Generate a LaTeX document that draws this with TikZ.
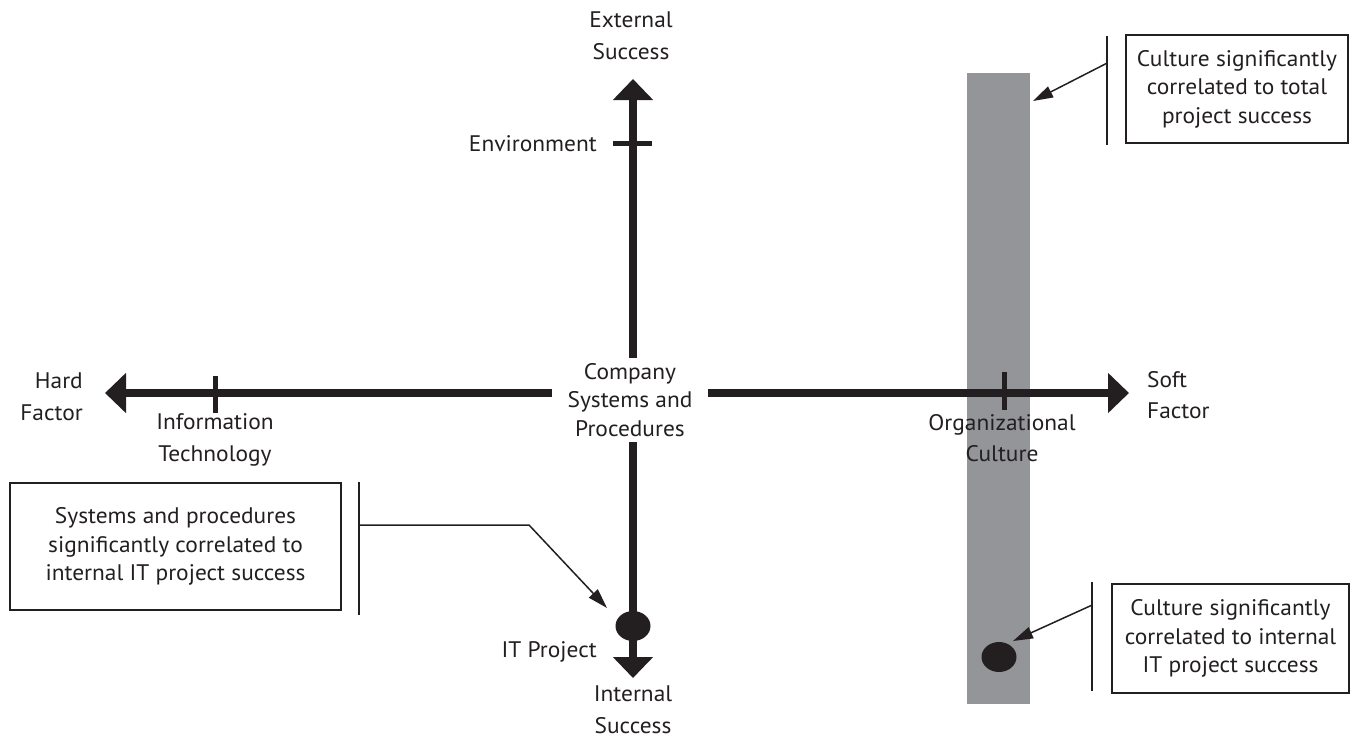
\documentclass[tikz,border=0pt]{standalone}
\usepackage{fontspec}
\setmainfont[FakeStretch=1.04]{PT Sans}
\usetikzlibrary{arrows.meta,calc,shapes.geometric}
\definecolor{ink}{HTML}{231F20}
\definecolor{band}{HTML}{939598}
\begin{document}
\begin{tikzpicture}[x=1pt,y=-1pt,
  lbl/.style={font=\fontsize{22.5}{31.5}\selectfont, text=ink, inner sep=0pt, align=center},
  axis/.style={line width=8pt, draw=ink, -{Triangle[width=39pt,length=21pt]}},
  tickmark/.style={line width=5pt, draw=ink},
  note/.style={draw=ink, line width=1.5pt, inner sep=0pt, align=center, text=ink,
    font=\fontsize{22.5}{28.5}\selectfont},
  bar/.style={draw=ink, line width=2pt},
  pointer/.style={draw=ink, line width=1.5pt, -{Triangle[width=12pt,length=20pt]}},
  dot/.style={ellipse, fill=ink, minimum width=35pt, minimum height=30pt, inner sep=0pt}
]
\useasboundingbox (0,0) rectangle (1353,739);
% gray band
\fill[band] (967,73) rectangle (1030,704);

% centre label
\node[lbl, font=\fontsize{22.5}{28.5}\selectfont, minimum width=156pt, minimum height=84pt] (ctr) at (630,400)
  {Company\\Systems and\\Procedures};

% axis ends
\coordinate (etop) at (633,79);
\coordinate (ebot) at (633,678);
\coordinate (eleft) at (105,393);
\coordinate (eright) at (1129,393);

\draw[axis] (ctr.north -| etop) -- (etop);
\draw[axis] (ctr.south -| ebot) -- (ebot);
\draw[axis] (ctr.west |- eleft) -- (eleft);
\draw[axis] (ctr.east |- eright) -- (eright);

% ticks
\draw[tickmark] (613,143) -- (652,143);
\draw[tickmark] (215,376) -- (215,413);
\draw[tickmark] (1004,372) -- (1004,410);

% dots
\node[dot] (dot1) at (633,626) {};
\node[dot] (dot2) at (999,657) {};

% axis labels
\node[lbl] (ext) at (631,36) {External\\Success};
\node[lbl] (int) at (633,710) {Internal\\Success};
\node[lbl, anchor=east, align=right] (hard) at (83,397) {Hard\\Factor};
\node[lbl, anchor=west, align=left] (soft) at (1147,395) {Soft\\Factor};
\node[lbl, anchor=base east] (env) at (597,151) {Environment};
\node[lbl, anchor=base east] (itp) at (597,657) {IT Project};
\node[lbl] (infot) at (215,440) {Information\\Technology};
\node[lbl] (orgc) at (1002,438) {Organizational\\Culture};

% notes
\node[note, minimum width=331pt, minimum height=127pt] (n1) at (175.5,546.5)
  {Systems and procedures\\significantly correlated to\\internal IT project success};
\node[note, minimum width=222pt, minimum height=108pt] (n2) at (1237,89)
  {Culture significantly\\correlated to total\\project success};
\node[note, minimum width=237pt, minimum height=109pt] (n3) at (1230.5,638.5)
  {Culture significantly\\correlated to internal\\IT project success};

% bars beside notes
\coordinate (b1t) at ($(n1.north east)+(17,0)$);
\coordinate (b1b) at ($(n1.south east)+(17,4)$);
\coordinate (b2t) at ($(n2.north west)+(-18,2)$);
\coordinate (b2b) at ($(n2.south west)+(-18,1)$);
\coordinate (b3t) at ($(n3.north west)+(-19,-1)$);
\coordinate (b3b) at ($(n3.south west)+(-19,-3)$);
\draw[bar] (b1t) -- (b1b);
\draw[bar] (b2t) -- (b2b);
\draw[bar] (b3t) -- (b3b);

% pointers
\coordinate (p1s) at (b1t |- 0,525);
\coordinate (p1k) at (529,525);
\coordinate (p1e) at (607,608);
\draw[pointer] (p1s) -- (p1k) -- (p1e);
\coordinate (p2s) at (b2t |- 0,63);
\coordinate (p2e) at (1033,101);
\draw[pointer] (p2s) -- (p2e);
\coordinate (p3s) at (b3t |- 0,605);
\coordinate (p3e) at (1013,641);
\draw[pointer] (p3s) -- (p3e);
\end{tikzpicture}
\end{document}
